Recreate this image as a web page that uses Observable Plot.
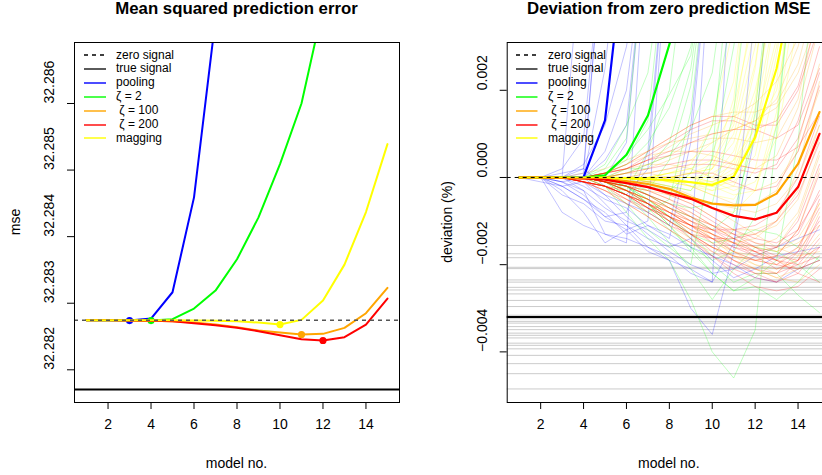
<!DOCTYPE html>
<html><head><meta charset="utf-8">
<script src="https://cdn.jsdelivr.net/npm/d3@7"></script>
<script src="https://cdn.jsdelivr.net/npm/@observablehq/plot@0.6"></script>
<style>
body{margin:0;background:#fff;font-family:"Liberation Sans",Arial,Helvetica,sans-serif;}
#wrap{position:relative;width:822px;height:475px;overflow:hidden;background:#fff;}
.abs{position:absolute;white-space:pre;color:#000;}
.title{font-weight:bold;font-size:16.8px;transform:translate(-50%,-50%);}
.lab{font-size:14px;transform:translate(-50%,-50%);}
.rot{font-size:14px;transform:translate(-50%,-50%) rotate(-90deg);}
.leg{font-size:12px;line-height:14px;}
svg.pl{position:absolute;top:0;}
</style></head><body><div id="wrap"></div>
<script>
// ---------- data ----------
const models = [1,2,3,4,5,6,7,8,9,10,11,12,13,14,15];
const xTicks = [2,4,6,8,10,12,14];
const mseTicks = [32.282,32.283,32.284,32.285,32.286];
const devTicks = [-0.004,-0.002,0,0.002];

const zeroSignalMSE = 32.282745;
const trueSignalMSE = 32.281704;

const msePooling = [32.282745,32.282745,32.28274,32.28277,32.283165,32.28459,32.28727];
const mseZeta2   = [32.282745,32.282745,32.282745,32.28274,32.28276,32.28292,32.28319,32.28366,32.28429,32.28509,32.28600,32.28745];
const mseZeta100 = [32.282745,32.282745,32.28274,32.282735,32.28273,32.28271,32.28268,32.28264,32.28259,32.28256,32.28253,32.28254,32.28263,32.28285,32.28323];
const mseZeta200 = [32.282745,32.282745,32.28274,32.282738,32.28273,32.28270,32.28267,32.28263,32.28258,32.28252,32.28246,32.28244,32.28249,32.28268,32.28307];
const mseMagging = [32.282745,32.282745,32.282745,32.282745,32.282745,32.28274,32.282735,32.28273,32.28271,32.28268,32.28275,32.28304,32.28358,32.28437,32.28539];
const bestModels = [3,4,11,12,10];

const devPooling = [0,0,-0.00001,0.00001,0.00131,0.0057];
const devZeta2   = [0,0,0,-0.00001,0.00005,0.00052,0.00142,0.00305,0.0048];
const devZeta100 = [0,0,-0.00001,-0.00002,-0.00003,-0.00008,-0.00015,-0.00026,-0.00046,-0.0006,-0.00064,-0.00063,-0.00037,0.00031,0.0015];
const devZeta200 = [0,0,-0.00001,-0.00002,-0.00005,-0.00013,-0.00022,-0.00036,-0.00049,-0.0007,-0.00088,-0.00096,-0.00081,-0.00022,0.001];
const devMagging = [0,0,0,0,0,-0.00002,-0.00004,-0.00006,-0.00011,-0.00017,0.00002,0.00092,0.0025,0.005];

const trueSignalDev = -0.00320;
const replicateTrueDevs = [-0.00156,-0.00175,-0.00184,-0.00206,-0.00209,-0.00235,-0.0024,-0.00252,-0.00258,-0.00267,-0.00282,-0.00296,-0.00316,-0.00324,-0.0033,-0.00334,-0.00342,-0.00349,-0.00357,-0.00362,-0.00368,-0.0038,-0.00385,-0.00393,-0.00408,-0.00427,-0.0045,-0.00485];

const repPooling = [
 [0,0,0,0.0001,0.006],
 [0,0,0,0.006],
 [0,0,-0.0001,0,0.0025,0.007],
 [0,0,0,-0.0003,-0.0013,-0.0015,0.006],
 [0,0,-0.0008,-0.0011,-0.0013,-0.0014,-0.0016,-0.0019,-0.0021,-0.0024,0.006],
 [0,0,-0.0003,-0.0008,-0.0015,-0.0012,-0.0017,-0.0019,-0.003,-0.0036,-0.0017,0.004],
 [0,0,0.0002,0.0009,0.006],
 [0,-0.0001,-0.0002,-0.0005,-0.0009,-0.0012,-0.0010,0.006],
 [0,0,0,0,0.0004,0.0012,0.006],
 [0,0,-0.0002,-0.0001,-0.0006,-0.0011,-0.0016,-0.0018,-0.0022,-0.0024,-0.0015,0.001,0.006],
 [0,0,0,0,-0.0004,-0.0009,-0.0013,-0.0017,-0.0020,-0.0022,-0.0021,-0.0018,-0.0016,-0.0014,-0.0012],
 [0,0,0,0.0003,0.0012,0.003,0.006],
 [0,0,-0.0001,-0.0004,-0.0009,-0.0008,0.0006,0.006],
 [0,0,0,-0.0002,-0.0005,-0.0007,-0.0011,-0.0014,0.0008,0.006],
 [0,0,0,0,0,0.0008,0.006],
 [0,0,0,-0.0001,-0.0004,-0.0006,-0.0008,-0.0011,0.0012,0.006],
 [0,0,-0.0001,-0.0003,-0.0007,-0.0010,-0.0012,-0.0015,-0.0017,0.006],
 [0,0,0,0.0002,0.006],
 [0,0,-0.0004,-0.0006,-0.0010,-0.0011,-0.0014,-0.0016,-0.0014,-0.0019,-0.0023,-0.0021,-0.0018,-0.0017,-0.0016],
 [0,0,0,0,0.0006,0.0020,0.006],
 [0,0,-0.0002,-0.0005,-0.0008,-0.0013,-0.0011,-0.0013,-0.0016,-0.0018,-0.0020,-0.0023,-0.0024,-0.0021,-0.0019],
 [0,0,0.0001,0.0002,-0.0002,-0.0004,0.0002,0.006]
];
const repZeta2 = [
 [0,0,0,0,0.0003,0.0012,0.0024,0.006],
 [0,0,0,0,0,-0.0003,0.0006,0.0020,0.006],
 [0,0,0,0,-0.0001,-0.0004,-0.0008,-0.0005,0.0015,0.006],
 [0,0,0,0,-0.0002,-0.0006,-0.0012,-0.0016,-0.0020,0.0005,0.006],
 [0,0,0,0,-0.0002,-0.0008,-0.0014,-0.0019,-0.0028,-0.0040,-0.0046,-0.0035,0.001,0.006],
 [0,0,0,0,0,-0.0002,-0.0005,-0.0009,-0.0014,-0.0020,-0.0024,-0.0022,-0.0022,-0.0027,-0.0031],
 [0,0,0,0,0.0001,0.0005,0.0011,0.0019,0.0028,0.006],
 [0,0,0,0,-0.0001,-0.0002,-0.0006,-0.0010,-0.0013,-0.0018,-0.0012,0.0015,0.006],
 [0,0,0,0,0,0.0002,0.0002,0.0008,0.0025,0.006],
 [0,0,0,0,-0.0001,-0.0004,-0.0009,-0.0015,-0.0021,-0.0028,-0.0021,-0.0016,-0.0017,-0.0020,-0.0024],
 [0,0,0,0,0.0002,0.0009,0.006],
 [0,0,0,0,-0.0001,-0.0003,-0.0007,-0.0012,-0.0016,-0.0019,-0.0017,-0.0009,0.0012,0.006],
 [0,0,0,0,0,-0.0001,-0.0003,0.0004,0.0021,0.006],
 [0,0,0,0,0.0001,0.0003,0.0008,0.0016,0.0030,0.006],
 [0,0,0,0,0,-0.0001,-0.0004,-0.0007,-0.0009,-0.0012,-0.0008,0.0010,0.006],
 [0,0,0,0,-0.0001,-0.0002,-0.0005,-0.0009,-0.0013,-0.0015,-0.0014,-0.0012,-0.0013,-0.0016,-0.0019],
 [0,0,0,0,0.0001,0.0004,0.0013,0.006],
 [0,0,0,0,0,-0.0002,-0.0006,-0.0011,-0.0016,-0.0022,-0.0026,-0.0023,-0.0019,0.0008,0.006],
 [0,0,0,0,0,0.0001,0.0003,0.0005,0.0011,0.0024,0.006],
 [0,0,0,0,-0.0001,-0.0003,-0.0006,-0.0011,-0.0017,-0.0022,-0.0026,-0.0025,-0.0028,-0.0024,-0.0018],
 [0,0,0,0,0,0,-0.0002,-0.0003,0.0001,0.0012,0.0040],
 [0,0,0,0,0,0,-0.0001,-0.0002,-0.0003,0.0004,0.0030,0.006],
 [0,0,0,0,-0.0001,-0.0002,-0.0004,-0.0006,-0.0007,-0.0006,0.0015,0.006]
];
const repZeta100 = [
 [0,0,0,-0.00005,-0.0001,-0.0003,-0.0005,-0.0007,-0.0009,-0.0011,-0.0012,-0.0012,-0.0010,-0.0003,0.0012],
 [0,0,0,0,-0.0002,-0.0004,-0.0007,-0.0010,-0.0013,-0.0016,-0.0018,-0.0019,-0.0018,-0.0012,0.0002],
 [0,0,0,0.0001,0.0002,0.0004,0.0006,0.0008,0.0009,0.0010,0.0011,0.0013,0.0018,0.003,0.005],
 [0,0,0,0,-0.0001,-0.0002,-0.0004,-0.0006,-0.0009,-0.0013,-0.0017,-0.0020,-0.0022,-0.0018,-0.0008],
 [0,0,0,0,0,0.0001,0.0001,0.0000,-0.0002,-0.0004,-0.0006,-0.0006,-0.0003,0.0008,0.0026],
 [0,0,0,-0.0001,-0.0003,-0.0006,-0.0009,-0.0012,-0.0015,-0.0017,-0.0019,-0.0021,-0.0023,-0.0024,-0.0020],
 [0,0,0,0,0.0001,0.0003,0.0005,0.0006,0.0006,0.0005,0.0003,0.0002,0.0005,0.0016,0.0035],
 [0,0,0,0,-0.0001,-0.0003,-0.0005,-0.0008,-0.0011,-0.0013,-0.0015,-0.0016,-0.0014,-0.0008,0.0006],
 [0,0,0,0,-0.0001,-0.0001,-0.0002,-0.0004,-0.0006,-0.0009,-0.0012,-0.0015,-0.0017,-0.0015,-0.0011],
 [0,0,0,0,0,0.0002,0.0004,0.0007,0.0010,0.0012,0.0014,0.0017,0.0022,0.0032,0.0048],
 [0,0,0,-0.0001,-0.0002,-0.0004,-0.0006,-0.0009,-0.0012,-0.0015,-0.0017,-0.0018,-0.0016,-0.0009,0.0005],
 [0,0,0,0,-0.0001,-0.0002,-0.0003,-0.0005,-0.0008,-0.0011,-0.0014,-0.0016,-0.0017,-0.0014,-0.0006],
 [0,0,0,0,-0.0001,-0.0002,-0.0004,-0.0007,-0.0010,-0.0014,-0.0018,-0.0021,-0.0023,-0.0021,-0.0015],
 [0,0,0,0,0,0.0001,0.0003,0.0005,0.0008,0.0009,0.0009,0.0008,0.0009,0.0018,0.0040],
 [0,0,0,-0.0001,-0.0002,-0.0003,-0.0005,-0.0008,-0.0010,-0.0012,-0.0013,-0.0013,-0.0011,-0.0005,0.0009],
 [0,0,0,0,-0.0001,-0.0003,-0.0006,-0.0009,-0.0012,-0.0014,-0.0015,-0.0014,-0.0010,0.0002,0.0022],
 [0,0,0,0,0,0,-0.0001,-0.0002,-0.0004,-0.0007,-0.0010,-0.0013,-0.0016,-0.0018,-0.0017],
 [0,0,0,0,0.0001,0.0002,0.0003,0.0003,0.0002,0.0000,-0.0002,-0.0003,-0.0001,0.0006,0.0020],
 [0,0,0,-0.0001,-0.0002,-0.0005,-0.0008,-0.0011,-0.0014,-0.0016,-0.0018,-0.0020,-0.0021,-0.0019,-0.0013],
 [0,0,0,0,-0.0001,-0.0002,-0.0003,-0.0004,-0.0005,-0.0006,-0.0007,-0.0008,-0.0006,0.0000,0.0012],
 [0,0,0,0,0,0.0001,0.0002,0.0004,0.0006,0.0008,0.0011,0.0013,0.0016,0.0024,0.0038],
 [0,0,0,0,-0.0001,-0.0003,-0.0005,-0.0008,-0.0011,-0.0014,-0.0017,-0.0019,-0.0020,-0.0016,-0.0006],
 [0,0,0,-0.0001,-0.0002,-0.0004,-0.0006,-0.0009,-0.0011,-0.0013,-0.0015,-0.0017,-0.0019,-0.0021,-0.0019],
 [0,0,0,0,0.0001,0.0003,0.0006,0.0009,0.0012,0.0014,0.0015,0.0015,0.0017,0.0026,0.0045]
];
const repZeta200 = [
 [0,0,0,-0.0001,-0.0002,-0.0004,-0.0006,-0.0009,-0.0012,-0.0014,-0.0016,-0.0017,-0.0016,-0.0010,0.0003],
 [0,0,0,-0.0001,-0.0003,-0.0006,-0.0009,-0.0012,-0.0015,-0.0018,-0.0021,-0.0023,-0.0024,-0.0019,-0.0009],
 [0,0,0,0,0.0001,0.0003,0.0006,0.0009,0.0012,0.0014,0.0014,0.0012,0.0012,0.0020,0.0035],
 [0,0,0,0,-0.0001,-0.0002,-0.0004,-0.0007,-0.0010,-0.0013,-0.0016,-0.0018,-0.0019,-0.0016,-0.0007],
 [0,0,0,-0.0001,-0.0002,-0.0003,-0.0005,-0.0007,-0.0009,-0.0011,-0.0013,-0.0015,-0.0016,-0.0013,-0.0003],
 [0,0,0,0,0,0,0.0001,0.0002,0.0003,0.0003,0.0002,0.0001,0.0003,0.0013,0.0030],
 [0,0,0,0,-0.0001,-0.0003,-0.0006,-0.0010,-0.0014,-0.0018,-0.0022,-0.0025,-0.0026,-0.0025,-0.0021],
 [0,0,0,0,-0.0002,-0.0005,-0.0008,-0.0011,-0.0013,-0.0014,-0.0014,-0.0013,-0.0010,-0.0004,0.0008],
 [0,0,0,0,0.0001,0.0002,0.0004,0.0005,0.0006,0.0006,0.0005,0.0004,0.0004,0.0007,0.0015],
 [0,0,0,-0.0001,-0.0002,-0.0004,-0.0007,-0.0009,-0.0011,-0.0013,-0.0015,-0.0017,-0.0019,-0.0020,-0.0018],
 [0,0,0,0,-0.0001,-0.0002,-0.0003,-0.0005,-0.0007,-0.0010,-0.0013,-0.0016,-0.0019,-0.0022,-0.0024],
 [0,0,0,-0.0001,-0.0002,-0.0004,-0.0006,-0.0008,-0.0011,-0.0014,-0.0017,-0.0019,-0.0020,-0.0017,-0.0010],
 [0,0,0,0,-0.0001,-0.0001,-0.0001,0.0000,0.0001,0.0001,-0.0001,-0.0003,-0.0002,0.0006,0.0021],
 [0,0,0,0,-0.0001,-0.0003,-0.0005,-0.0008,-0.0011,-0.0015,-0.0019,-0.0022,-0.0024,-0.0022,-0.0016],
 [0,0,0,-0.0001,-0.0002,-0.0004,-0.0007,-0.0010,-0.0013,-0.0016,-0.0018,-0.0019,-0.0018,-0.0012,0.0001],
 [0,0,0,0,0.0001,0.0002,0.0004,0.0006,0.0008,0.0010,0.0011,0.0011,0.0013,0.0021,0.0038],
 [0,0,0,0,-0.0001,-0.0002,-0.0004,-0.0006,-0.0008,-0.0011,-0.0014,-0.0017,-0.0020,-0.0021,-0.0019],
 [0,0,0,-0.0001,-0.0003,-0.0005,-0.0007,-0.0009,-0.0011,-0.0012,-0.0012,-0.0011,-0.0008,0.0000,0.0014],
 [0,0,0,0,0,-0.0001,-0.0002,-0.0004,-0.0006,-0.0009,-0.0012,-0.0014,-0.0015,-0.0012,-0.0004],
 [0,0,0,0,-0.0001,-0.0003,-0.0006,-0.0009,-0.0013,-0.0017,-0.0020,-0.0022,-0.0022,-0.0017,-0.0005],
 [0,0,0,0,0,0.0001,0.0002,0.0003,0.0004,0.0004,0.0003,0.0002,0.0002,0.0009,0.0024],
 [0,0,0,-0.0001,-0.0002,-0.0004,-0.0006,-0.0008,-0.0010,-0.0012,-0.0014,-0.0016,-0.0018,-0.0019,-0.0016],
 [0,0,0,-0.0001,-0.0002,-0.0004,-0.0007,-0.0010,-0.0013,-0.0016,-0.0019,-0.0021,-0.0022,-0.0020,-0.0014],
 [0,0,0,0,-0.0001,-0.0002,-0.0004,-0.0006,-0.0009,-0.0012,-0.0015,-0.0018,-0.0021,-0.0019,-0.0011],
 [0,0,0,0,0.0001,0.0002,0.0005,0.0008,0.0011,0.0013,0.0013,0.0011,0.0009,0.0012,0.0025]
];
const repMagging = [
 [0,0,0,0,0,0,0,-0.0001,-0.0002,-0.0002,0.0004,0.0025,0.006],
 [0,0,0,0,0,0,-0.0001,-0.0002,-0.0003,0.0002,0.0018,0.006],
 [0,0,0,0,0,0,0,0,0,-0.0001,0.0001,0.0010,0.0030,0.006],
 [0,0,0,0,0,0,0,-0.0001,-0.0001,-0.0003,-0.0002,0.0008,0.0040],
 [0,0,0,0,0,0,0,0.0001,0.0003,0.0012,0.0035,0.006],
 [0,0,0,0,0,0,0,0,-0.0001,-0.0002,-0.0004,-0.0003,0.0015,0.006],
 [0,0,0,0,0,0,0,0.0001,0.0001,0.0002,0.0010,0.0030,0.006],
 [0,0,0,0,0,0,-0.0001,-0.0003,-0.0005,-0.0007,-0.0008,-0.0003,0.0012,0.0045],
 [0,0,0,0,0,0,0,0,0,0,0.0006,0.0020,0.0042],
 [0,0,0,0,0,0,0.0001,0.0002,0.0004,0.0008,0.0022,0.006],
 [0,0,0,0,0,0,0,0,-0.0001,-0.0001,0.0002,0.0014,0.0040],
 [0,0,0,0,0,0,0,-0.0001,-0.0002,-0.0004,-0.0005,0.0002,0.0022,0.006],
 [0,0,0,0,0,0,0,0.0001,0.0002,0.0006,0.0016,0.0038],
 [0,0,0,0,0,0,0,0,0,-0.0002,-0.0001,0.0005,0.0028,0.006],
 [0,0,0,0,0,0,0,0,0.0001,0.0003,0.0012,0.0034],
 [0,0,0,0,0,0,-0.0001,-0.0001,-0.0002,-0.0003,0.0000,0.0016,0.0050],
 [0,0,0,0,0,0,0,0,0,0.0001,0.0004,0.0011,0.0020,0.0045],
 [0,0,0,0,0,0,0,0,0,0,0.0003,0.0018,0.0048],
 [0,0,0,0,0,0,0,-0.0001,-0.0001,-0.0002,0.0001,0.0012,0.0032,0.006],
 [0,0,0,0,0,0,0,0,0.0001,0.0002,0.0008,0.0026,0.006],
 [0,0,0,0,0,0,0,0,0,-0.0001,-0.0003,-0.0001,0.0009,0.0036],
 [0,0,0,0,0,0,0,0.0001,0.0002,0.0004,0.0013,0.0042]
];

const methodColors = ["#0000ff","#00ff00","#ffa500","#ff0000","#ffff00"];
const legendLabels = ["zero signal","true signal","pooling","ζ = 2"," ζ = 100"," ζ = 200","magging"];
const legendColors = ["#000","#000","#0000ff","#00ff00","#ffa500","#ff0000","#ffff00"];

// ---------- helpers ----------
const toRows = (vals, key) => vals.map((v, i) => ({x: models[i], y: v, key}));
const font = "Liberation Sans, Arial, Helvetica, sans-serif";
const fmtDev = d => d === 0 ? "0.000" : d.toFixed(3).replace("-", "\u2212");

const mseSeries = [msePooling, mseZeta2, mseZeta100, mseZeta200, mseMagging];
const devSeries = [devPooling, devZeta2, devZeta100, devZeta200, devMagging];
const repSeries = [repPooling, repZeta2, repZeta100, repZeta200, repMagging];

// ---------- left panel ----------
const leftMarks = [Plot.ruleY([trueSignalMSE], {stroke: "black", strokeWidth: 2})];
mseSeries.forEach((s, k) => {
  leftMarks.push(Plot.line(toRows(s, k), {x: "x", y: "y", stroke: methodColors[k], strokeWidth: 2, clip: true}));
  const b = bestModels[k];
  leftMarks.push(Plot.dot([{x: b, y: s[b - 1]}], {x: "x", y: "y", fill: methodColors[k], r: 3.6}));
});
leftMarks.push(
  Plot.ruleY([zeroSignalMSE], {stroke: "#555", strokeWidth: 1.6, strokeDasharray: "4,4"}),
  Plot.frame({stroke: "black"}),
  Plot.axisX({ticks: xTicks, tickSize: 7, tickFormat: () => "", label: null}),
  Plot.text(xTicks, {x: d => d, frameAnchor: "bottom", dy: 26, text: d => String(d), fontSize: 14}),
  Plot.axisY({ticks: mseTicks, tickSize: 7, tickFormat: () => "", label: null}),
  Plot.text(mseTicks, {y: d => d, frameAnchor: "left", dx: -25, rotate: -90, text: d => d.toFixed(3), fontSize: 14})
);
const left = Plot.plot({
  width: 411, height: 475, marginLeft: 74, marginRight: 12, marginTop: 42, marginBottom: 73,
  x: {domain: [0.44, 15.56]},
  y: {domain: [32.281509, 32.286916]},
  style: {fontFamily: font, fontSize: "14px", background: "none", color: "black", overflow: "visible"},
  marks: leftMarks
});

// ---------- right panel ----------
const rightMarks = [Plot.ruleY(replicateTrueDevs, {stroke: "#8c8c8c", strokeOpacity: 0.45, strokeWidth: 1})];
repSeries.forEach((reps, k) => {
  const rows = reps.flatMap((r, j) => toRows(r, k * 100 + j));
  rightMarks.push(Plot.line(rows, {x: "x", y: "y", z: "key", stroke: methodColors[k], strokeOpacity: 0.24, strokeWidth: 1, clip: true}));
});
rightMarks.push(Plot.ruleY([trueSignalDev], {stroke: "black", strokeWidth: 2}));
devSeries.forEach((s, k) => {
  rightMarks.push(Plot.line(toRows(s, k), {x: "x", y: "y", stroke: methodColors[k], strokeWidth: 2.2, clip: true}));
});
rightMarks.push(
  Plot.ruleY([0], {stroke: "black", strokeWidth: 1, strokeDasharray: "4,4"}),
  Plot.frame({stroke: "black"}),
  Plot.axisX({ticks: xTicks, tickSize: 7, tickFormat: () => "", label: null}),
  Plot.text(xTicks, {x: d => d, frameAnchor: "bottom", dy: 26, text: d => String(d), fontSize: 14}),
  Plot.axisY({ticks: devTicks, tickSize: 7, tickFormat: () => "", label: null}),
  Plot.text(devTicks, {y: d => d, frameAnchor: "left", dx: -25, rotate: -90, text: fmtDev, fontSize: 14})
);
const right = Plot.plot({
  width: 440, height: 475, marginLeft: 95.7, marginRight: 20, marginTop: 42, marginBottom: 73,
  x: {domain: [0.44, 15.56]},
  y: {domain: [-0.005161, 0.003096]},
  style: {fontFamily: font, fontSize: "14px", background: "none", color: "black", overflow: "visible"},
  marks: rightMarks
});

// ---------- assemble ----------
const wrap = document.getElementById("wrap");
left.classList.add("pl"); left.style.left = "0px";
right.classList.add("pl"); right.style.left = "411px";
wrap.appendChild(left);
wrap.appendChild(right);

function addText(cls, txt, x, y) {
  const d = document.createElement("div");
  d.className = "abs " + cls;
  d.textContent = txt;
  d.style.left = x + "px"; d.style.top = y + "px";
  wrap.appendChild(d);
}
addText("title", "Mean squared prediction error", 236.5, 8.5);
addText("title", "Deviation from zero prediction MSE", 668.8, 8.5);
addText("lab", "model no.", 236.5, 463);
addText("lab", "model no.", 668.8, 463);
addText("rot", "mse", 15, 222);
addText("rot", "deviation (%)", 447, 222);

function addLegend(x0, x1, xt) {
  legendLabels.forEach((lab, i) => {
    const y = 55 + i * 13.9;
    const svg = document.createElementNS("http://www.w3.org/2000/svg", "svg");
    svg.setAttribute("width", x1 - x0); svg.setAttribute("height", 6);
    svg.style.position = "absolute"; svg.style.left = x0 + "px"; svg.style.top = (y - 3) + "px";
    const ln = document.createElementNS("http://www.w3.org/2000/svg", "line");
    ln.setAttribute("x1", 0); ln.setAttribute("x2", x1 - x0); ln.setAttribute("y1", 3); ln.setAttribute("y2", 3);
    ln.setAttribute("stroke", legendColors[i]);
    ln.setAttribute("stroke-width", i < 2 ? 1.3 : 2);
    if (i >= 2) ln.setAttribute("stroke-opacity", 0.7);
    if (i === 0) ln.setAttribute("stroke-dasharray", "4,4");
    svg.appendChild(ln);
    wrap.appendChild(svg);
    const d = document.createElement("div");
    d.className = "abs leg";
    d.textContent = lab;
    d.style.left = xt + "px"; d.style.top = (y - 7.5) + "px";
    wrap.appendChild(d);
  });
}
addLegend(83.5, 105.5, 116);
addLegend(516, 537.5, 548);
</script></body></html>
